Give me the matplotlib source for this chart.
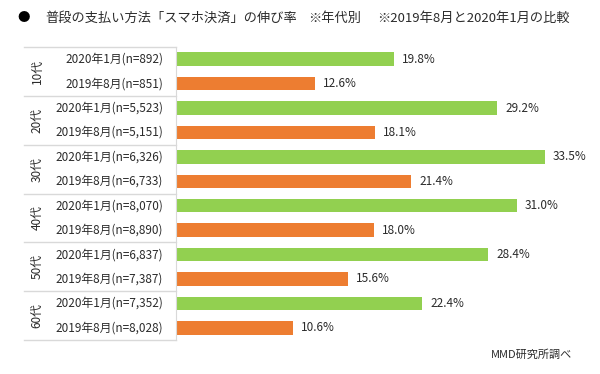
import numpy as np
import matplotlib
matplotlib.use("Agg")
import matplotlib.pyplot as plt

plt.rcParams['font.family'] = ['Noto Sans CJK JP', 'DejaVu Sans']

ages = ['10代', '20代', '30代', '40代', '50代', '60代']
labels_jan = ['2020年1月(n=892)', '2020年1月(n=5,523)', '2020年1月(n=6,326)',
              '2020年1月(n=8,070)', '2020年1月(n=6,837)', '2020年1月(n=7,352)']
labels_aug = ['2019年8月(n=851)', '2019年8月(n=5,151)', '2019年8月(n=6,733)',
              '2019年8月(n=8,890)', '2019年8月(n=7,387)', '2019年8月(n=8,028)']
rate_jan = [19.8, 29.2, 33.5, 31.0, 28.4, 22.4]
rate_aug = [12.6, 18.1, 21.4, 18.0, 15.6, 10.6]

green = '#92D050'
orange = '#ED7D31'
txt = '#2b2b2b'
line = '#D9D9D9'

W, H = 600, 374
fig = plt.figure(figsize=(6, 3.74), dpi=100)
ax_l, ax_r, ax_t, ax_b = 176, 600, 47, 340
ax = fig.add_axes([ax_l / W, 1 - ax_b / H, (ax_r - ax_l) / W, (ax_b - ax_t) / H])

px_per = 11.0
ax.set_xlim(0, (ax_r - ax_l) / px_per)
ax.set_ylim(12, 0)

for i in range(len(ages)):
    y1 = 2 * i + 0.5
    y2 = 2 * i + 1.5
    ax.barh(y1, rate_jan[i], height=0.55, color=green)
    ax.barh(y2, rate_aug[i], height=0.55, color=orange)
    for y, v in ((y1, rate_jan[i]), (y2, rate_aug[i])):
        ax.annotate(f'{v:.1f}%', (v, y), xytext=(5.8, 0), textcoords='offset points',
                    ha='left', va='center', fontsize=8.5, color=txt)
    ax.text(-13 / (ax_r - ax_l), y1, labels_jan[i], transform=ax.get_yaxis_transform(),
            ha='right', va='center', fontsize=8.5, color=txt)
    ax.text(-13 / (ax_r - ax_l), y2, labels_aug[i], transform=ax.get_yaxis_transform(),
            ha='right', va='center', fontsize=8.5, color=txt)
    ax.text((37 - ax_l) / (ax_r - ax_l), 2 * i + 1, ages[i], transform=ax.get_yaxis_transform(),
            ha='center', va='center', rotation=90, fontsize=8.5, color=txt)

# group separators on the left
x0 = (24 - ax_l) / (ax_r - ax_l)
for k in range(len(ages) + 1):
    ax.plot([x0, 0], [2 * k, 2 * k], color=line, lw=1, transform=ax.get_yaxis_transform(),
            clip_on=False)

for s in ['top', 'right', 'bottom']:
    ax.spines[s].set_visible(False)
ax.spines['left'].set_color(line)
ax.set_xticks([])
ax.set_yticks([])

fig.text(17 / W, 1 - 18 / H, '●', fontsize=9, color='black', va='center', ha='left')
fig.text(45 / W, 1 - 18 / H, '普段の支払い方法「スマホ決済」の伸び率', fontsize=9.5,
         color=txt, va='center', ha='left')
fig.text(308 / W, 1 - 18 / H, '※年代別', fontsize=9.5, color=txt, va='center', ha='left')
fig.text(377 / W, 1 - 18 / H, '※2019年8月と2020年1月の比較', fontsize=9.5,
         color=txt, va='center', ha='left')
fig.text(572 / W, 1 - 355 / H, 'MMD研究所調べ', fontsize=8, color=txt, va='center', ha='right')

fig.savefig('out.png', dpi=100)
